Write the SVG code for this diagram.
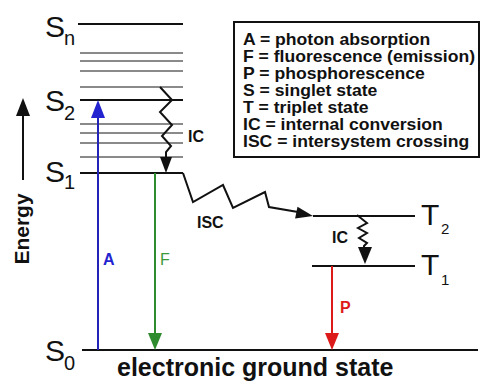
<svg xmlns="http://www.w3.org/2000/svg" width="482" height="381" viewBox="0 0 482 381">
<style>
.lvl{stroke:#111;stroke-width:2;fill:none}
.sub{stroke:#8a8a8a;stroke-width:2;fill:none}
.big{font-family:"Liberation Sans",Arial,sans-serif;font-size:30px;fill:#111}
.sb{font-family:"Liberation Sans",Arial,sans-serif;font-size:20px;fill:#111}
.lab{font-family:"Liberation Sans",Arial,sans-serif;font-size:16px;font-weight:bold;fill:#111}
.leg{font-family:"Liberation Sans",Arial,sans-serif;font-size:16px;font-weight:bold;fill:#111}
.wig{stroke:#111;stroke-width:2;fill:none;stroke-linejoin:miter}
</style>
<rect width="482" height="381" fill="#fff"/>
<g id="levels">
<line class="lvl" x1="78" y1="24" x2="183" y2="24"/>
<line class="sub" x1="80" y1="53" x2="183" y2="53"/>
<line class="sub" x1="80" y1="61" x2="183" y2="61"/>
<line class="sub" x1="80" y1="71" x2="183" y2="71"/>
<line class="sub" x1="80" y1="87" x2="183" y2="87"/>
<line class="lvl" x1="80" y1="100" x2="183" y2="100"/>
<line class="sub" x1="80" y1="124" x2="183" y2="124"/>
<line class="sub" x1="80" y1="133" x2="183" y2="133"/>
<line class="sub" x1="80" y1="143" x2="183" y2="143"/>
<line class="sub" x1="80" y1="157" x2="183" y2="157"/>
<line class="lvl" x1="80" y1="173" x2="183" y2="173"/>
<line class="lvl" x1="82" y1="350" x2="478" y2="350"/>
<line class="lvl" x1="313" y1="216" x2="415" y2="216"/>
<line class="lvl" x1="312" y1="266" x2="415" y2="266"/>
</g>
<g id="state-labels">
<text class="big" x="45" y="37">S</text><text class="sb" x="64" y="45">n</text>
<text class="big" x="45" y="111">S</text><text class="sb" x="64" y="120">2</text>
<text class="big" x="45" y="182">S</text><text class="sb" x="64" y="189">1</text>
<text class="big" x="45" y="361">S</text><text class="sb" x="64" y="370">0</text>
<text class="big" x="421" y="225">T</text><text class="sb" x="441" y="234" style="font-size:15px">2</text>
<text class="big" x="421" y="275">T</text><text class="sb" x="441" y="285" style="font-size:15px">1</text>
</g>
<g id="energy-axis">
<line x1="23" y1="180" x2="23" y2="112" stroke="#111" stroke-width="2"/>
<polygon points="23,98 16,116 30,116" fill="#111"/>
<text x="0" y="0" transform="translate(29,229) rotate(-90)" text-anchor="middle" style="font-family:'Liberation Sans',Arial,sans-serif;font-size:21px;font-weight:bold;fill:#111">Energy</text>
</g>
<g id="connectors">
<line x1="98" y1="350" x2="98" y2="114" stroke="#2323b8" stroke-width="2"/>
<polygon points="98,100 91,118 105,118" fill="#2323d0"/>
<line x1="155" y1="173" x2="155" y2="336" stroke="#2e8b2e" stroke-width="2"/>
<polygon points="155,350 148,333 162,333" fill="#2e8b2e"/>
<line x1="332" y1="266" x2="332" y2="336" stroke="#dd1a1a" stroke-width="2"/>
<polygon points="332,350 325,333 339,333" fill="#dd1a1a"/>
<polyline class="wig" points="160,87 172,100 160,112 172,125 162,136 171,146 166,152 166,160"/>
<polygon points="166,173 160,157 172,157" fill="#111"/>
<polyline class="wig" points="183,173 193,202 223,185 233,208 265,192 269,207 298,212"/>
<polygon points="313,216 295.1,218.5 297.5,206.7" fill="#111"/>
<polyline class="wig" points="357,215 367,223 358,228 367,233 359,238 367,243 364,246 364,250"/>
<polygon points="365,264 358,247 372,247" fill="#111"/>
</g>
<g id="process-labels">
<text class="lab" x="103" y="265" style="fill:#2323d0">A</text>
<text class="lab" x="160" y="265" style="fill:#3a9a3a;font-weight:normal">F</text>
<text class="lab" x="340" y="313" style="fill:#dd1a1a">P</text>
<text class="lab" x="188" y="142">IC</text>
<text class="lab" x="197" y="228">ISC</text>
<text class="lab" x="332" y="243">IC</text>
</g>
<g id="legend">
<rect x="234" y="22" width="245" height="135" fill="#fff" stroke="#111" stroke-width="2"/>
<g transform="translate(243,0) scale(1.1,1)">
<text class="leg" x="0" y="45">A = photon absorption</text>
<text class="leg" x="0" y="62">F = fluorescence (emission)</text>
<text class="leg" x="0" y="79">P = phosphorescence</text>
<text class="leg" x="0" y="96">S = singlet state</text>
<text class="leg" x="0" y="113">T = triplet state</text>
<text class="leg" x="0" y="130">IC = internal conversion</text>
<text class="leg" x="0" y="147">ISC = intersystem crossing</text>
</g>
</g>
<g id="ground-label">
<text x="117" y="376" style="font-family:'Liberation Sans',Arial,sans-serif;font-size:25px;font-weight:bold;fill:#111">electronic ground state</text>
</g>
</svg>
